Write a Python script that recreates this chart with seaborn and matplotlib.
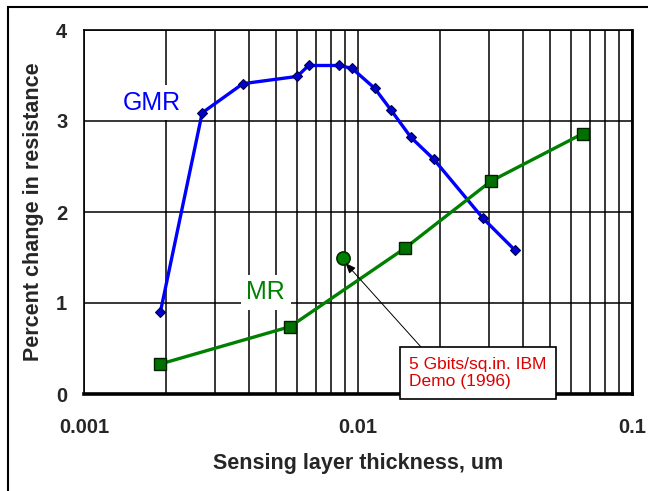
import matplotlib
matplotlib.use("Agg")
import matplotlib.pyplot as plt
import matplotlib.patches as mpatches
import seaborn as sns
import pandas as pd

# data
gmr_thickness = [0.0019, 0.0027, 0.0038, 0.0060, 0.0066, 0.0085, 0.0095,
                 0.0115, 0.0132, 0.0156, 0.0189, 0.0286, 0.0374]
gmr_change = [0.90, 3.09, 3.41, 3.49, 3.61, 3.61, 3.58,
              3.36, 3.12, 2.82, 2.58, 1.93, 1.58]

mr_thickness = [0.0019, 0.00565, 0.0148, 0.0306, 0.066]
mr_change = [0.33, 0.74, 1.60, 2.34, 2.86]

ibm_thickness = [0.0088]
ibm_change = [1.49]

x_ticks = [0.001, 0.01, 0.1]
x_tick_labels = ["0.001", "0.01", "0.1"]
y_ticks = [0, 1, 2, 3, 4]

gmr_df = pd.DataFrame({"t": gmr_thickness, "r": gmr_change})
mr_df = pd.DataFrame({"t": mr_thickness, "r": mr_change})
ibm_df = pd.DataFrame({"t": ibm_thickness, "r": ibm_change})

sns.set_style("white")
plt.rcParams["font.family"] = ["Liberation Sans", "DejaVu Sans"]

fig = plt.figure(figsize=(6.48, 4.91), dpi=100)
ax = fig.add_axes([84 / 648, 97 / 491, 548 / 648, 364 / 491])

ax.set_xscale("log")
ax.set_xlim(0.001, 0.1)
ax.set_ylim(0, 4)

# grid: every log subdivision on x, whole numbers on y
ax.xaxis.grid(True, which="both", color="black", lw=1.1)
ax.yaxis.grid(True, which="major", color="black", lw=1.1)
ax.set_axisbelow(True)

sns.lineplot(data=gmr_df, x="t", y="r", ax=ax, color="#0000ff", lw=2.4,
             marker="D", markersize=5, markerfacecolor="#0000cc",
             markeredgecolor="#000050", markeredgewidth=0.8,
             sort=False, estimator=None, zorder=4)
sns.lineplot(data=mr_df, x="t", y="r", ax=ax, color="#008000", lw=2.4,
             marker="s", markersize=8, markerfacecolor="#007000",
             markeredgecolor="#002000", markeredgewidth=1.0,
             sort=False, estimator=None, zorder=4)
sns.scatterplot(data=ibm_df, x="t", y="r", ax=ax, color="#008000",
                marker="o", s=90, edgecolor="#003000", linewidth=1.2, zorder=5)

ax.set_xticks(x_ticks)
ax.set_xticklabels(x_tick_labels)
ax.set_yticks(y_ticks)
ax.tick_params(axis="x", which="both", length=0, pad=17, labelsize=14.5)
ax.tick_params(axis="y", length=0, pad=12, labelsize=14.5)
for lab in ax.get_xticklabels() + ax.get_yticklabels():
    lab.set_fontweight("bold")

ax.set_xlabel("Sensing layer thickness, um", fontsize=15.5,
              fontweight="bold", labelpad=12)
ax.set_ylabel("Percent change in resistance", fontsize=15.5,
              fontweight="bold", labelpad=9)

for side, w in {"bottom": 2.6, "right": 2.0, "top": 1.2, "left": 1.2}.items():
    ax.spines[side].set_visible(True)
    ax.spines[side].set_color("black")
    ax.spines[side].set_linewidth(w)

ax.text(0.00177, 3.20, "GMR", color="#0000ff", fontsize=18,
        ha="center", va="center", zorder=6,
        bbox=dict(facecolor="white", edgecolor="none", pad=4))
ax.text(0.00461, 1.12, "MR", color="#008000", fontsize=18,
        ha="center", va="center", zorder=6,
        bbox=dict(facecolor="white", edgecolor="none", pad=4))

ax.annotate("5 Gbits/sq.in. IBM\nDemo (1996)",
            xy=(0.0090, 1.44), xytext=(0.0274, 0.23),
            textcoords="data", ha="center", va="center",
            multialignment="left", color="#dd0000", fontsize=12.5,
            family=["Liberation Sans Narrow", "Liberation Sans"],
            bbox=dict(boxstyle="square,pad=0.55", facecolor="white",
                      edgecolor="black", lw=1.2),
            arrowprops=dict(arrowstyle="-|>,head_length=0.5,head_width=0.2",
                            color="black", lw=0.7, relpos=(0.15, 1.0),
                            shrinkA=0, shrinkB=0),
            annotation_clip=False, zorder=7)

# outer frame around the chart (cut at the right and bottom edges)
fig.patches.append(mpatches.Rectangle((8 / 648, -0.1), 1.2, 1.1 - 7 / 491,
                                      transform=fig.transFigure,
                                      fill=False, edgecolor="black", lw=1.5))

fig.savefig("out.png", dpi=100)
